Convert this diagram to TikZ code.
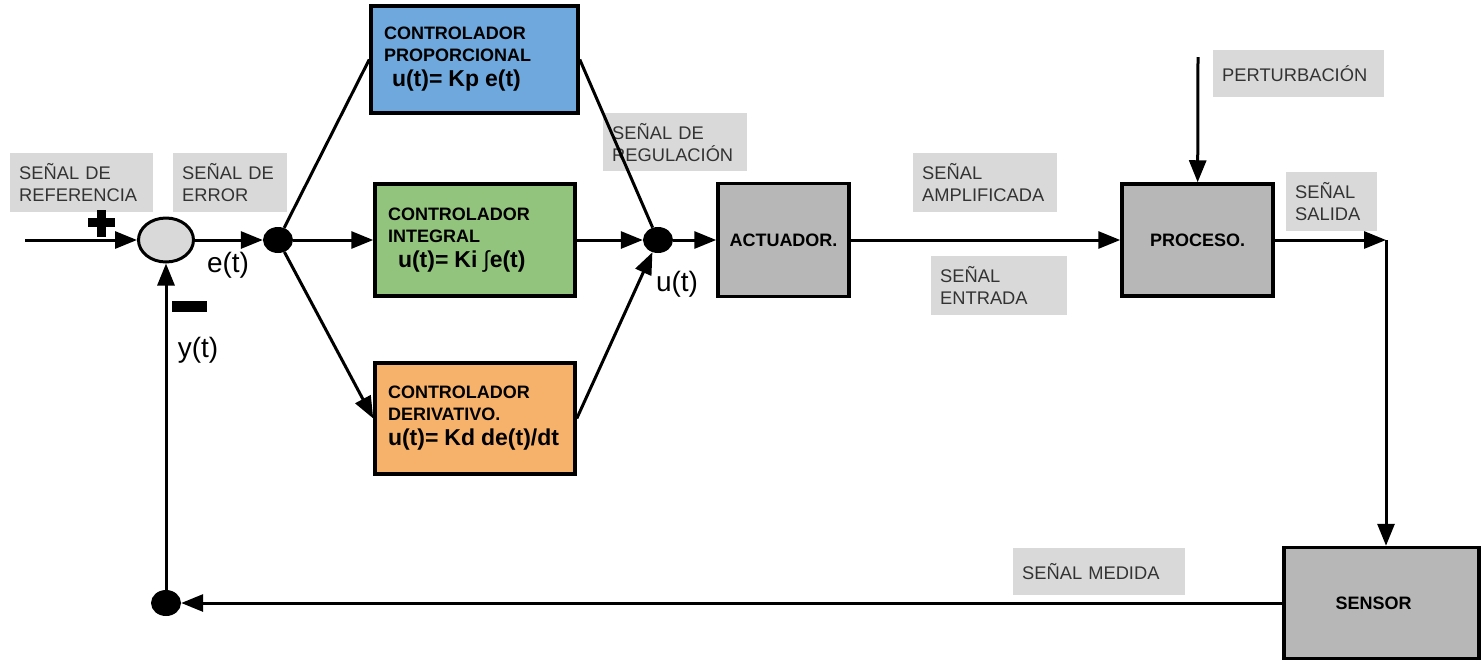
\documentclass[tikz,border=0pt]{standalone}
\usepackage{fontspec}
\setmainfont{Liberation Sans}
\usetikzlibrary{arrows.meta,shapes.geometric}
\definecolor{lblgray}{HTML}{D9D9D9}
\definecolor{blkgray}{HTML}{B7B7B7}
\definecolor{propblue}{HTML}{6FA8DC}
\definecolor{intgreen}{HTML}{93C47D}
\definecolor{derorange}{HTML}{F6B26B}
\newcommand\ctrllaw[1]{{\fontsize{23}{25}\selectfont #1}}
\tikzset{
  line/.style={line width=3pt},
  arr/.style={line,-{Triangle[length=22pt,width=17pt]}},
  blk/.style={draw,rectangle,line width=3.5pt,fill=blkgray,
    font=\bfseries\fontsize{18}{22}\selectfont},
  ctrl/.style={blk,align=left,inner xsep=13pt},
  dot/.style={ellipse,fill,minimum width=30pt,minimum height=26pt,inner sep=0pt},
  lbl/.style={fill=lblgray,text=black!80,inner xsep=9pt,align=left,anchor=north west,
    font=\fontsize{18.3}{22}\selectfont},
  sig/.style={font=\fontsize{28}{30}\selectfont}
}
\begin{document}
\begin{tikzpicture}[x=1pt,y=-1pt]
\useasboundingbox (0,0) rectangle (1482,662);
\node[ellipse,draw,line width=3pt,fill=lblgray,minimum width=55pt,minimum height=44pt] (sum) at (166,240) {};
\node[dot] (d1) at (278,240) {};
\node[dot] (d2) at (658,240) {};
\node[dot] (d3) at (166,603) {};
\node[ctrl,fill=propblue,minimum width=207pt,minimum height=107pt,text width=181pt] (prop) at (474.5,59.5)
  {CONTROLADOR\\PROPORCIONAL\\[3pt]\hspace*{8pt}\ctrllaw{u(t)= Kp e(t)}};
\node[ctrl,fill=intgreen,minimum width=200pt,minimum height=112pt,text width=174pt] (integ) at (475,240)
  {CONTROLADOR\\INTEGRAL\\[3pt]\hspace*{10pt}\ctrllaw{u(t)= Ki {\mdseries∫}e(t)}};
\node[ctrl,fill=derorange,minimum width=200pt,minimum height=111pt,text width=174pt] (deriv) at (475,418.5)
  {CONTROLADOR\\DERIVATIVO.\\[3pt]\ctrllaw{u(t)= Kd de(t)/dt}};
\node[blk,minimum width=131pt,minimum height=113pt] (act) at (783.5,240) {ACTUADOR.};
\node[blk,minimum width=151pt,minimum height=112pt] (proc) at (1197.5,240) {PROCESO.};
\node[blk,minimum width=195pt,minimum height=111pt] (sensor) at (1381.5,603) {\hspace*{-16pt}SENSOR};
\coordinate (in) at (25,240);
\coordinate (pert) at (1198,57);
\coordinate (out) at (1386,240);
% signal labels
\node[lbl,text width=125pt,minimum height=59pt] (lref) at (10,153) {SEÑAL DE\\REFERENCIA};
\node[lbl,text width=96pt,minimum height=59pt] (lerr) at (173,153) {SEÑAL DE\\ERROR};
\node[lbl,text width=126pt,minimum height=58pt] (lreg) at (603,113) {SEÑAL DE\\REGULACIÓN};
\node[lbl,text width=126pt,minimum height=59pt] (lamp) at (913,153) {SEÑAL\\AMPLIFICADA};
\node[lbl,text width=118pt,minimum height=59pt] (lent) at (931,256) {SEÑAL\\ENTRADA};
\node[lbl,text width=73pt,minimum height=59pt] (lsal) at (1286,172) {SEÑAL\\SALIDA};
\node[lbl,text width=153pt,minimum height=47pt] (lpert) at (1213,50) {PERTURBACIÓN};
\node[lbl,text width=154pt,minimum height=47pt] (lmed) at (1013,548) {SEÑAL MEDIDA};
\node[sig] (et) at (228,265) {e(t)};
\node[sig] (yt) at (198,350) {y(t)};
\node[sig] (ut) at (677,284) {u(t)};
% signs at the summing point
\fill (88,218) rectangle (115,227);
\fill (97,210) rectangle (106,237);
\fill (172,301) rectangle (207,312);
% connectors
\draw[arr] (in) -- (sum);
\draw[arr] (sum) -- (d1);
\draw[line] (d1) -- (prop.west);
\draw[arr] (d1) -- (integ);
\draw[arr] (d1) -- (deriv.west);
\draw[line] (prop.east) -- (d2);
\draw[arr] (integ) -- (d2);
\draw[arr] (deriv.east) -- (d2);
\draw[arr] (d2) -- (act);
\draw[arr] (act) -- (proc);
\draw[arr] (pert) -- (proc);
\draw[arr] (proc) -- (out);
\draw[arr] (out) -- (out |- sensor.north);
\draw[arr] (sensor) -- (d3);
\draw[arr] (d3) -- (sum);
\end{tikzpicture}
\end{document}
